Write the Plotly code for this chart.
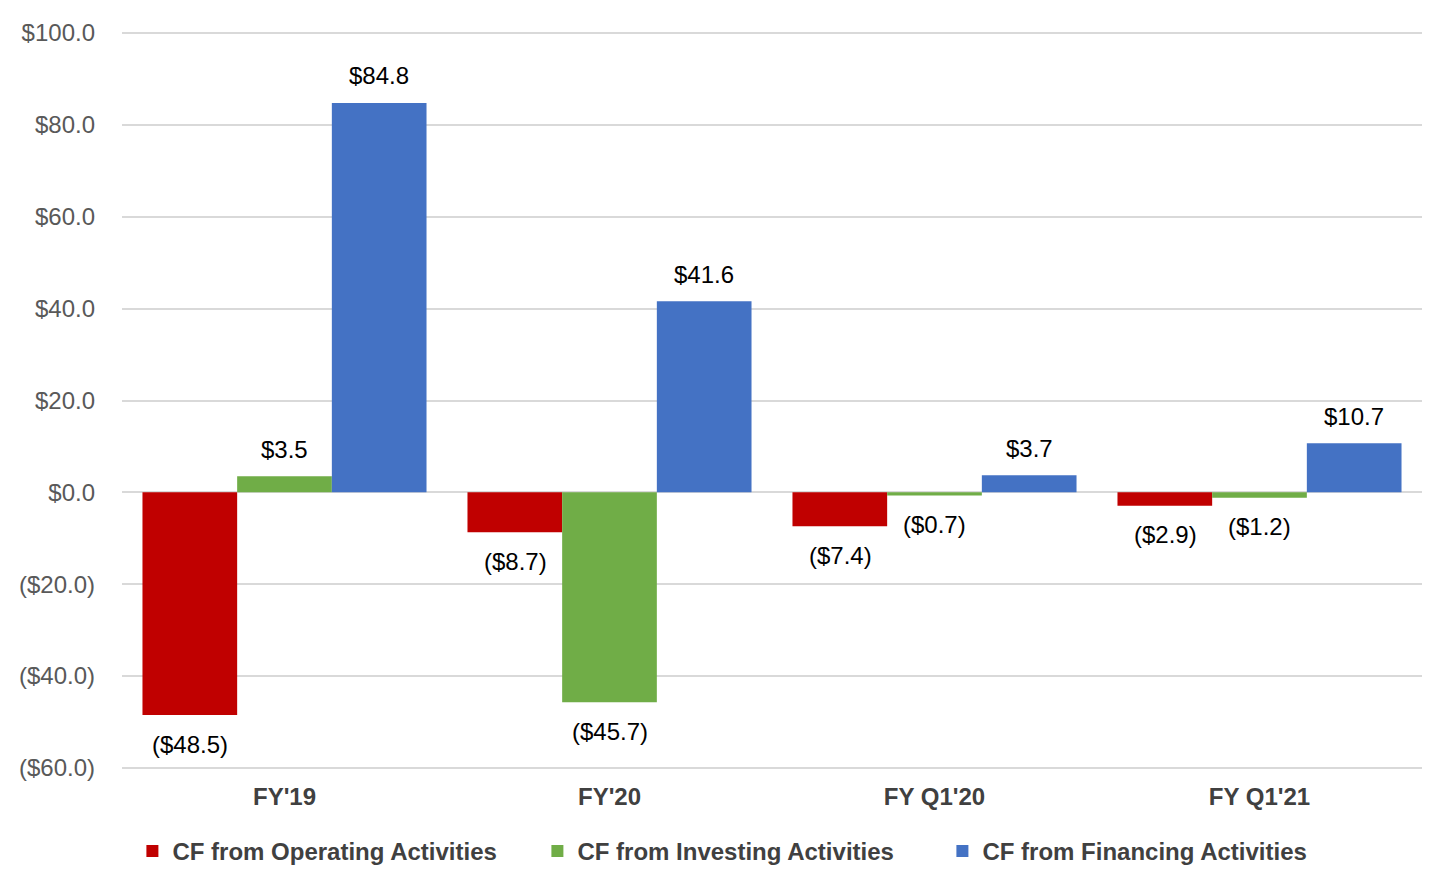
import plotly.graph_objects as go

categories = ["FY'19", "FY'20", "FY Q1'20", "FY Q1'21"]
operating = [-48.5, -8.7, -7.4, -2.9]
investing = [3.5, -45.7, -0.7, -1.2]
financing = [84.8, 41.6, 3.7, 10.7]
series_names = ["CF from Operating Activities", "CF from Investing Activities", "CF from Financing Activities"]
colors = ["#C00000", "#70AD47", "#4472C4"]
y_ticks = [-60, -40, -20, 0, 20, 40, 60, 80, 100]

FONT = "Arial, Liberation Sans, sans-serif"


def fmt(v):
    return f"${v:.1f}" if v >= 0 else f"(${-v:.1f})"


fig = go.Figure()
all_series = [operating, investing, financing]
for name, vals, col in zip(series_names, all_series, colors):
    fig.add_trace(go.Bar(
        x=categories, y=vals, name=name, marker=dict(color=col, line=dict(width=0)),
    ))

# data labels as annotations anchored to the data values
bar_px = 94.5
for i, vals in enumerate(all_series):
    for cat, v in zip(categories, vals):
        fig.add_annotation(
            x=cat, y=v, xref="x", yref="y", text=fmt(v), showarrow=False,
            xshift=(i - 1) * bar_px, yshift=27 if v >= 0 else -29,
            yanchor="middle", xanchor="center",
            font=dict(family=FONT, size=24, color="#000000"),
        )

fig.update_layout(
    barmode="group", bargap=0.126, bargroupgap=0,
    width=1456, height=894,
    margin=dict(l=122, r=34, t=31, b=124),
    paper_bgcolor="white", plot_bgcolor="white",
    font=dict(family=FONT),
    showlegend=True,
    legend=dict(orientation="h", x=0.008, xanchor="left", y=-0.110, yanchor="middle",
                font=dict(size=24, color="#404040", family=FONT, weight="bold"),
                entrywidth=360, entrywidthmode="pixels", traceorder="normal"),
)
fig.update_yaxes(range=[-60.45, 100.45], tickvals=y_ticks, ticktext=[fmt(v) for v in y_ticks],
                 showgrid=True, gridcolor="#D9D9D9", gridwidth=2, zeroline=True, zerolinecolor="#D9D9D9",
                 zerolinewidth=2, tickfont=dict(size=24, color="#595959"), ticks="", ticklabelstandoff=26)
fig.update_xaxes(showgrid=False, showline=False, ticks="",
                 tickfont=dict(size=24, color="#404040", weight="bold"), ticklabelstandoff=10)

fig.write_html("out.html")
